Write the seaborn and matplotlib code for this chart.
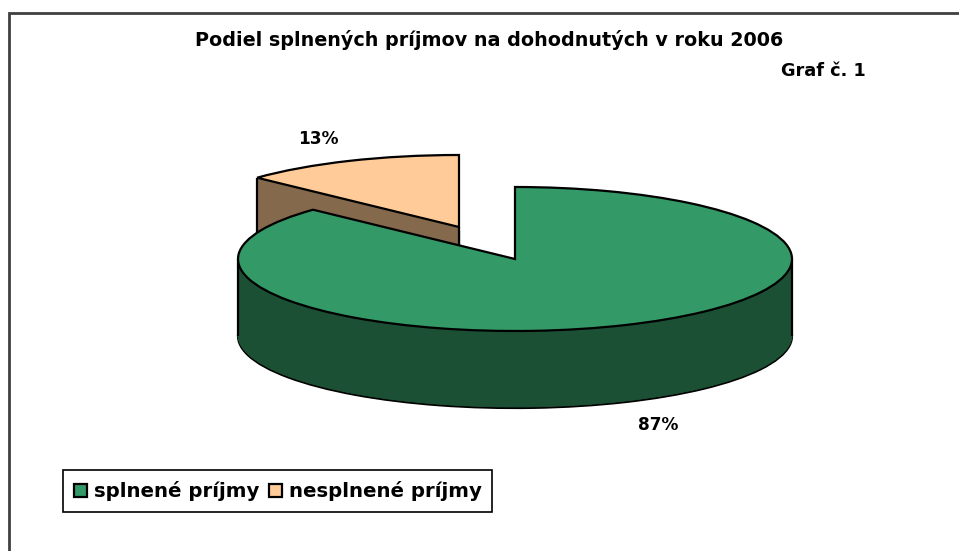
import math
import matplotlib
matplotlib.use('Agg')
import matplotlib.pyplot as plt
import seaborn as sns
from matplotlib.patches import Patch, Rectangle

categories = ['splnené príjmy', 'nesplnené príjmy']
shares = [87, 13]
pct_labels = ['87%', '13%']
title = 'Podiel splnených príjmov na dohodnutých v roku 2006'
subtitle = 'Graf č. 1'

WIDTH, HEIGHT = 959, 551
CX, CY = 515, 259      # pie centre in pixels
RX, RY = 277, 72       # ellipse semi axes in pixels
DEPTH = 77             # height of the pie side in pixels
SLICE_CX, SLICE_CY = 459, 227   # tip of the pulled out slice

top_colors = sns.color_palette(['#339966', '#FFCC99'])
side_colors = sns.color_palette(['#1C5034', '#85694D'])


def to_x(px):
    return (px - CX) / RX


def to_y(py):
    return (CY - py) / RY


def draw_layer(ax, color, idx, center, offset, edge):
    # one pie per layer, only slice idx stays visible
    wedges, _ = ax.pie(shares, startangle=90, counterclock=False, colors=[color, color],
                       center=(center[0], center[1] - offset / RY),
                       wedgeprops={'edgecolor': 'black' if edge else color,
                                   'linewidth': 1.6 if edge else 0.6})
    wedges[1 - idx].set_visible(False)


def draw_slice(ax, idx, center, rim_xs, rim_ys):
    draw_layer(ax, side_colors[idx], idx, center, DEPTH, True)
    for d in range(DEPTH - 1, 0, -1):
        draw_layer(ax, side_colors[idx], idx, center, d, False)
    ax.vlines(rim_xs, [y - DEPTH / RY for y in rim_ys], rim_ys, color='black', linewidth=1.6, zorder=1)
    draw_layer(ax, top_colors[idx], idx, center, 0, True)


sns.set_style('white')
plt.rcParams['font.family'] = ['DejaVu Sans']
plt.rcParams['text.color'] = 'black'

fig = plt.figure(figsize=(WIDTH / 100, HEIGHT / 100), dpi=100)
ax = fig.add_axes([0, 0, 1, 1])

# small slice sits behind the big one
slice_center = (to_x(SLICE_CX), to_y(SLICE_CY))
theta = math.radians(360 * shares[1] / sum(shares))
draw_slice(ax, 1, slice_center,
           [slice_center[0], slice_center[0] - math.sin(theta)],
           [slice_center[1], slice_center[1] + math.cos(theta)])
draw_slice(ax, 0, (0, 0), [-1, 1], [0, 0])

ax.set_aspect('auto')
ax.set_xlim(to_x(0), to_x(WIDTH))
ax.set_ylim(to_y(HEIGHT), to_y(0))
ax.axis('off')

fig.text(489 / WIDTH, 1 - 40 / HEIGHT, title, ha='center', va='center', fontsize=13.8, fontweight='bold')
fig.text(866 / WIDTH, 1 - 71 / HEIGHT, subtitle, ha='right', va='center', fontsize=12.8, fontweight='bold')
fig.text(318 / WIDTH, 1 - 139 / HEIGHT, pct_labels[1], ha='center', va='center', fontsize=12.2, fontweight='bold')
fig.text(658 / WIDTH, 1 - 425 / HEIGHT, pct_labels[0], ha='center', va='center', fontsize=12.2, fontweight='bold')

# outer chart border
fig.add_artist(Rectangle((9 / WIDTH, -0.01), 2, 1 - 13 / HEIGHT + 0.01, transform=fig.transFigure,
                         fill=False, edgecolor='#404040', linewidth=2))

handles = [Patch(facecolor=top_colors[i], edgecolor='black', linewidth=1.6) for i in range(2)]
leg = fig.legend(handles, categories, ncols=2, loc='lower left',
                 bbox_to_anchor=(63 / WIDTH, 1 - 512 / HEIGHT), borderaxespad=0,
                 fancybox=False, framealpha=1, edgecolor='black', handlelength=0.67, handleheight=0.67,
                 handletextpad=0.33, columnspacing=0.5, borderpad=0.55, prop={'size': 14.2, 'weight': 'bold'})
leg.get_frame().set_linewidth(1.2)

fig.savefig('out.png', dpi=100)
